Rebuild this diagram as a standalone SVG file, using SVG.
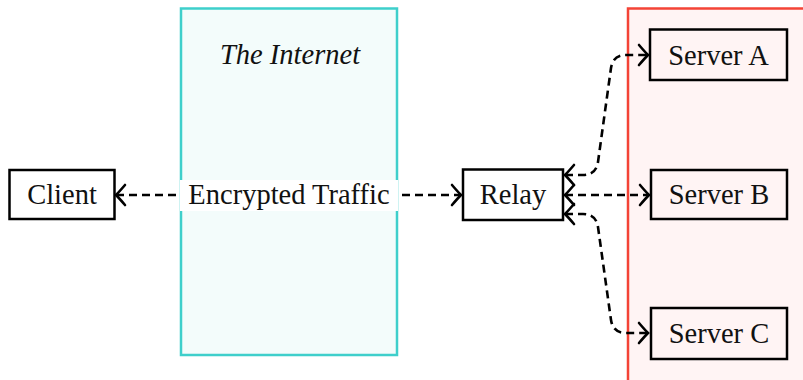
<svg xmlns="http://www.w3.org/2000/svg" width="803" height="380" viewBox="0 0 803 380">
<style>
text{font-family:"Liberation Serif","DejaVu Serif",serif;font-size:28.5px;fill:#111;text-anchor:middle}
.node{stroke:#000;stroke-width:2.5}
.edge{fill:none;stroke:#000;stroke-width:2.6;stroke-dasharray:8 5}
</style>
<defs>
<marker id="ah" markerUnits="userSpaceOnUse" markerWidth="24" markerHeight="24" viewBox="-14 -12 16 24" refX="0" refY="0" orient="auto-start-reverse">
<path d="M -9 -10 Q -3 -3 0 0 Q -3 3 -9 10" fill="none" stroke="#000" stroke-width="2.6" stroke-linecap="round"/>
</marker>
</defs>
<g id="internet">
<rect x="181" y="8.5" width="216" height="346.5" fill="#f3fcfb" stroke="#3ecfcb" stroke-width="2.5"/>
<text x="290" y="64" font-style="italic">The Internet</text>
</g>
<g id="servers-zone">
<rect x="628" y="8.5" width="185" height="385" fill="#fff4f4" stroke="#f44336" stroke-width="2.5"/>
</g>
<g id="connectors">
<path class="edge" d="M 116 195 L 461 195" marker-start="url(#ah)" marker-end="url(#ah)"/>
<rect x="180" y="180" width="218" height="31" fill="#fff"/>
<text x="289" y="204">Encrypted Traffic</text>
<path class="edge" d="M 565 175 L 583 175 Q 596 175 598 162 L 611 68 Q 613 55 626 55 L 648 55" marker-start="url(#ah)" marker-end="url(#ah)"/>
<path class="edge" d="M 565 195 L 649 195" marker-start="url(#ah)" marker-end="url(#ah)"/>
<path class="edge" d="M 565 214 L 583 214 Q 596 214 598 227 L 611 320 Q 613 333 626 333 L 648 333" marker-start="url(#ah)" marker-end="url(#ah)"/>
</g>
<g id="client">
<rect class="node" x="9.5" y="170" width="105" height="49" fill="#fff"/>
<text x="62" y="204">Client</text>
</g>
<g id="relay">
<rect class="node" x="463" y="169.5" width="100" height="50.5" fill="#fff"/>
<text x="513" y="204">Relay</text>
</g>
<g id="server-a">
<rect class="node" x="650" y="29.5" width="137" height="50.5" fill="none"/>
<text x="718.5" y="65">Server A</text>
</g>
<g id="server-b">
<rect class="node" x="651" y="170" width="136" height="49" fill="none"/>
<text x="719" y="204">Server B</text>
</g>
<g id="server-c">
<rect class="node" x="651" y="308" width="136" height="51" fill="none"/>
<text x="719" y="343">Server C</text>
</g>
</svg>
